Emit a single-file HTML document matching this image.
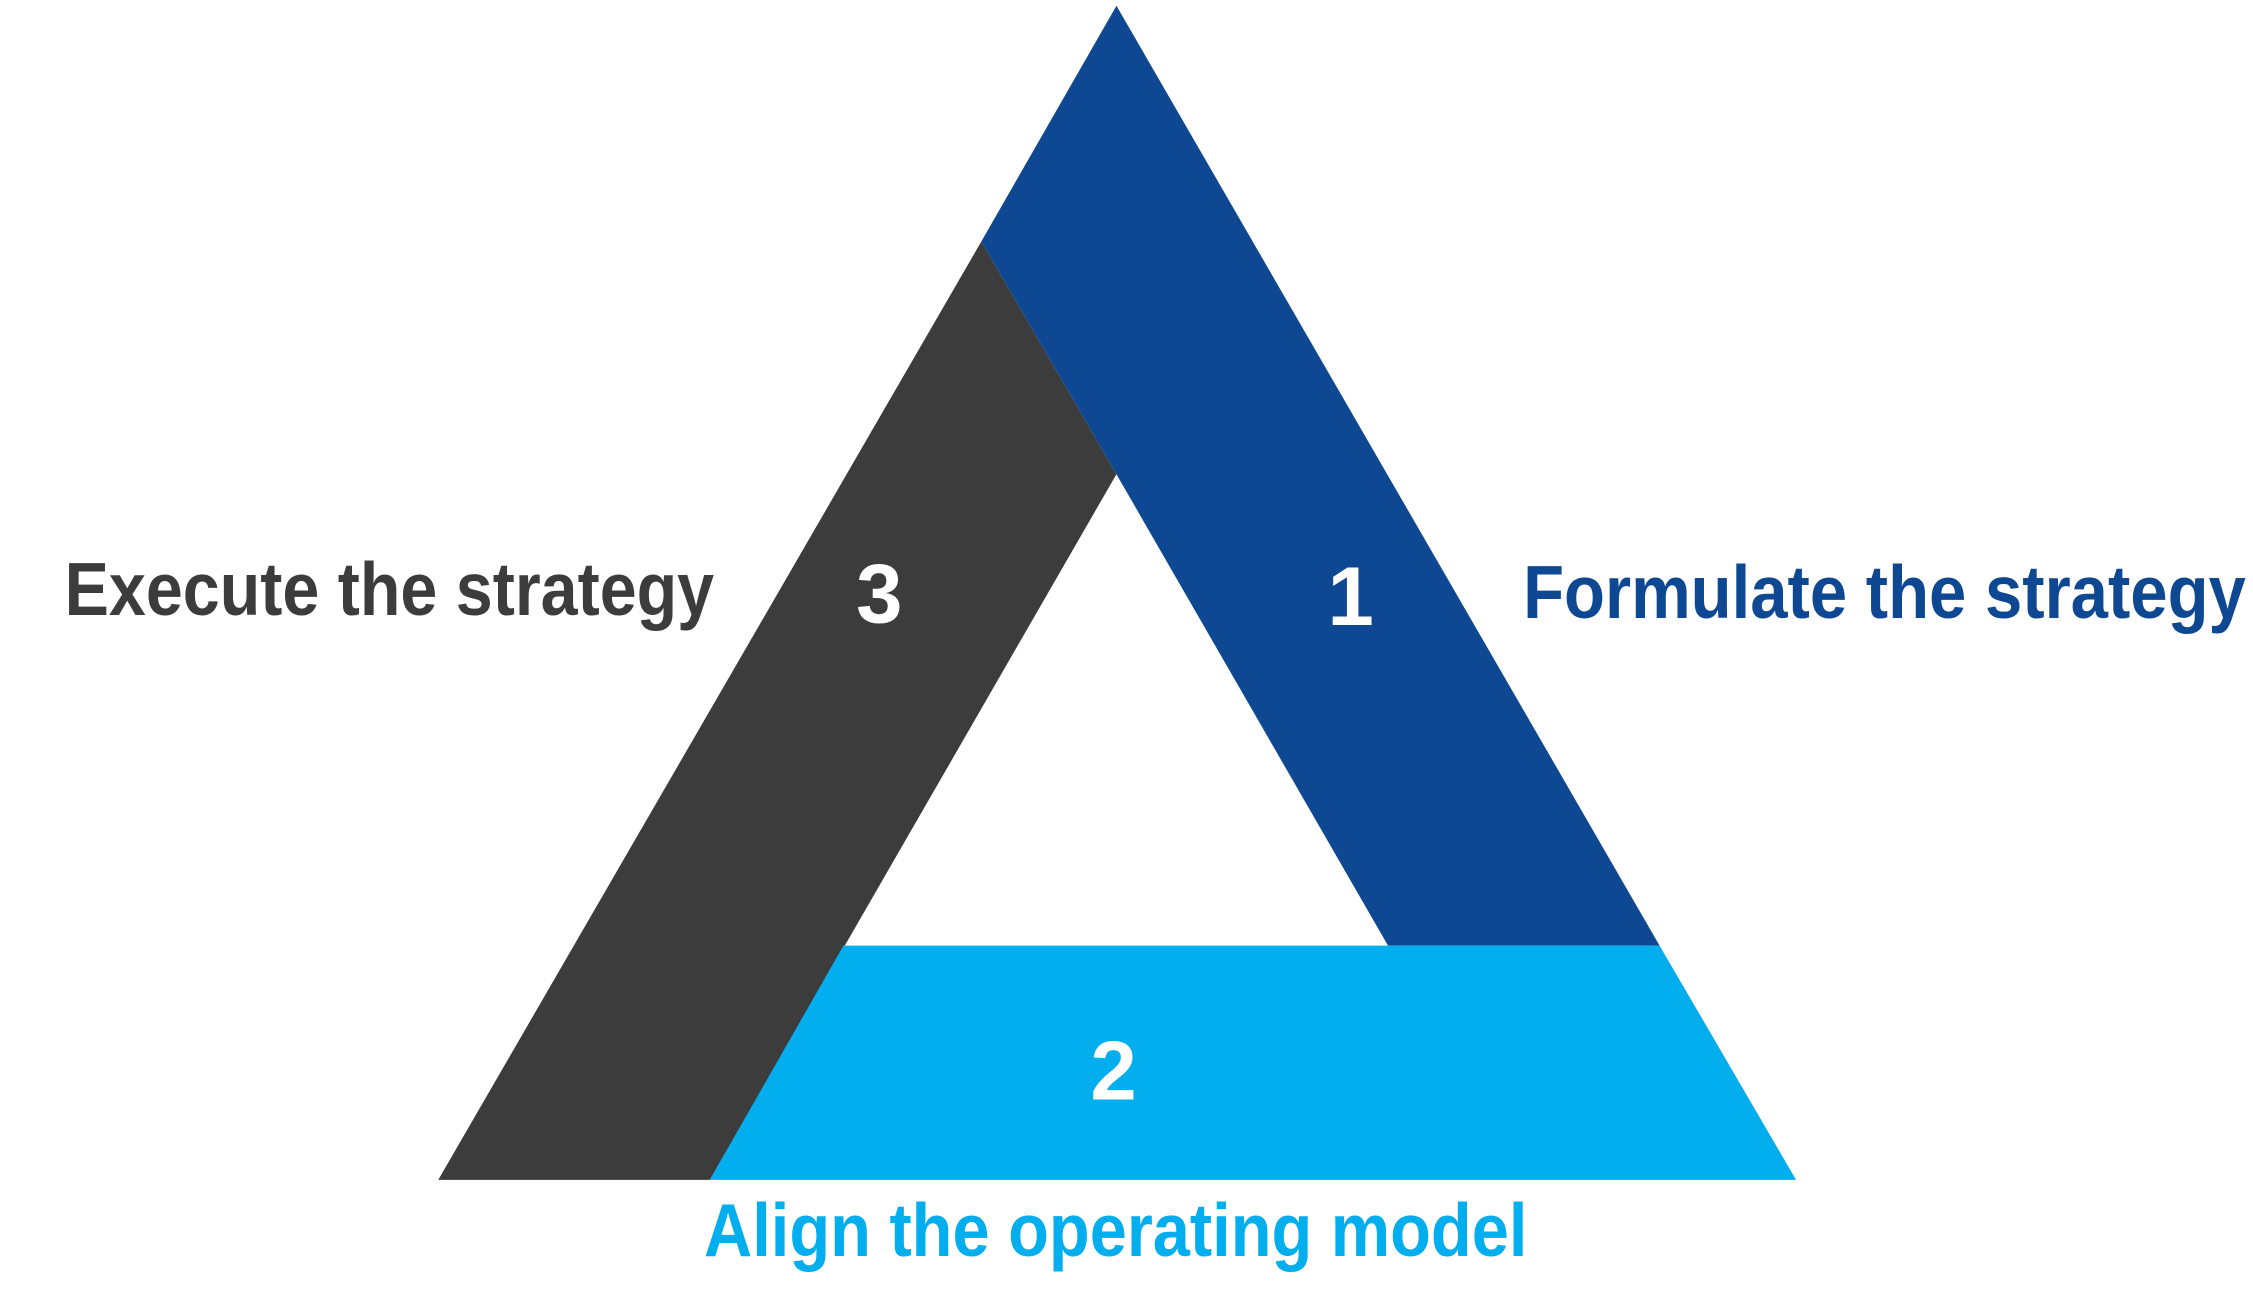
<!DOCTYPE html>
<html><head><meta charset="utf-8"><style>
html,body{margin:0;padding:0;background:#fff;}
svg{display:block;}
text{font-family:"Liberation Sans",sans-serif;font-weight:bold;}
</style></head><body>
<svg width="2253" height="1302" viewBox="0 0 1568 906" preserveAspectRatio="none" xmlns="http://www.w3.org/2000/svg">
<rect width="1568" height="906" fill="#fff"/>
<polygon points="683,168 777,330 494,821 305,821" fill="#3c3c3c"/>
<polygon points="777,4 1155,658 966,658 777,330 683,168" fill="#0f4892"/>
<polygon points="587,658 1155,658 1250,821 494,821" fill="#03aeef"/>
<text x="45" y="428" font-size="52" fill="#3c3c3c" textLength="452" lengthAdjust="spacingAndGlyphs">Execute the strategy</text>
<text x="1060" y="430" font-size="52" fill="#0f4892" textLength="503" lengthAdjust="spacingAndGlyphs">Formulate the strategy</text>
<text x="490" y="874" font-size="52" fill="#03aeef" textLength="573" lengthAdjust="spacingAndGlyphs">Align the operating model</text>
<text x="612" y="433" font-size="58" fill="#fff" text-anchor="middle">3</text>
<text x="940" y="435" font-size="58" fill="#fff" text-anchor="middle">1</text>
<text x="775" y="765" font-size="58" fill="#fff" text-anchor="middle">2</text>
</svg>
</body></html>
